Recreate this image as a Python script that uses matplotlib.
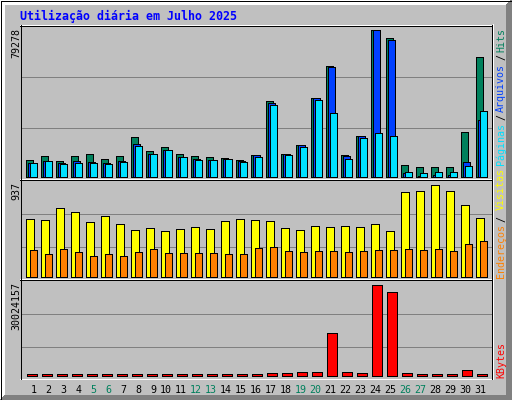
import matplotlib
matplotlib.use('Agg')
import matplotlib.pyplot as plt
from matplotlib.patches import Polygon, Rectangle
from matplotlib.transforms import blended_transform_factory
import numpy as np

TITLE = 'Utilização diária em Julho 2025'

days = np.arange(1, 32)
weekend_days = [5, 6, 12, 13, 19, 20, 26, 27]

# painel 1: Hits / Arquivos / Páginas
hits  = [9168, 11164, 8467, 11164, 12242, 9546, 11164, 21410, 13860, 16017,
         12242, 11164, 10624, 10085, 9006, 11703, 40987, 12242, 17096, 42605,
         59700, 11703, 21949, 79278, 74801, 6310, 5231, 5231, 5231, 24106, 64554]
files = [7550, 8467, 7550, 8467, 7712, 7388, 8467, 17635, 12242, 14400,
         10624, 9546, 9006, 9546, 8467, 11600, 39908, 12026, 16880, 42227,
         59161, 11164, 21734, 79100, 73722, 1618, 400, 800, 800, 7928, 30578]
pages = [7173, 8467, 6849, 7550, 7388, 6849, 7928, 16557, 12100, 14300,
         10500, 9006, 8950, 9500, 7928, 10624, 38830, 11703, 16017, 41364,
         34353, 9546, 20871, 23567, 21949, 2535, 1995, 2535, 2535, 5770, 35432]

# painel 2: Visitas / Endereços
visits = [588, 577, 700, 659, 557, 618, 537, 476, 496, 465,
          486, 506, 486, 567, 588, 577, 567, 496, 476, 516,
          506, 516, 506, 537, 465, 863, 873, 937, 873, 730, 598]
sites  = [272, 231, 282, 252, 211, 231, 211, 252, 282, 241,
          241, 241, 241, 231, 231, 292, 302, 262, 252, 262,
          262, 252, 262, 272, 272, 282, 272, 282, 262, 333, 364]

# painel 3: KBytes
kbytes = [330000, 330000, 330000, 330000, 330000, 330000, 330000, 330000,
          330000, 330000, 330000, 330000, 330000, 330000, 330000, 330000,
          660000, 660000, 990000, 990000, 14090000, 990000, 660000, 30024157,
          27620000, 660000, 330000, 330000, 330000, 1650000, 330000]

# cores padrão do webalizer
GREY    = '#C0C0C0'
DKGREY  = '#808080'
C_HITS  = '#00805C'
C_FILES = '#0040FF'
C_PAGES = '#00E0FF'
C_VISIT = '#FFFF00'
C_SITES = '#FF8000'
C_KBYTE = '#FF0000'
MONO    = 'DejaVu Sans Mono'
PX      = 0.72          # 1 pixel em pontos (dpi 100)

W, H = 512, 400
fig = plt.figure(figsize=(W / 100, H / 100), dpi=100)
fig.patch.set_facecolor(GREY)

# camada de fundo em coordenadas de pixel
bg = fig.add_axes([0, 0, 1, 1], zorder=0)
bg.set_xlim(0, W)
bg.set_ylim(H, 0)
bg.axis('off')

# borda 3D
bg.add_patch(Polygon([(0, 0), (W, 0), (506, 5), (5, 5), (5, 395), (0, H)],
                     closed=True, fc='white', ec='none', antialiased=False))
bg.add_patch(Polygon([(W, 0), (W, H), (0, H), (5, 395), (506, 395), (506, 5)],
                     closed=True, fc=DKGREY, ec='none', antialiased=False))
bg.add_patch(Rectangle((0.5, 0.5), W - 1, H - 1, fill=False, ec='black',
                       lw=PX, antialiased=False))

# linhas de grade (terços de cada painel)
for r in [76, 127, 213, 246, 313, 346]:
    bg.plot([21, 491], [r + 0.5, r + 0.5], color=DKGREY, lw=PX,
            antialiased=False)

# molduras dos painéis
for r in [25, 179, 279]:
    bg.plot([20, 492], [r + 0.5, r + 0.5], color='black', lw=PX, antialiased=False)
for r in [24, 178, 278, 378]:
    bg.plot([20, 493], [r + 0.5, r + 0.5], color='white', lw=PX, antialiased=False)
bg.plot([20.5, 20.5], [25, 379], color='black', lw=PX, antialiased=False)
bg.plot([491.5, 491.5], [25, 379], color='black', lw=PX, antialiased=False)
bg.plot([492.5, 492.5], [24, 379], color='white', lw=PX, antialiased=False)

# título
bg.text(19.5, 19.8, TITLE, family=MONO, fontweight='bold', fontsize=8.35,
        color='#0000FF', ha='left', va='baseline')


def panel(top, bot, base, maxrow, vmax):
    ax = fig.add_axes([21 / W, 1 - bot / H, (491 - 21) / W, (bot - top) / H],
                      zorder=1)
    k = vmax / (base - maxrow)
    ax.set_ylim((base - bot) * k, (base - top) * k)
    ax.set_xlim(1 + (21 - 25) / 15, 1 + (491 - 25) / 15)
    ax.axis('off')
    return ax


def bars(ax, vals, off, w, color):
    ax.bar(days + off / 15, vals, width=w / 15, align='edge', color=color,
           edgecolor='black', linewidth=PX, antialiased=False)


ax1 = panel(26, 178, 176.5, 29.5, max(hits))
bars(ax1, hits, 0.5, 7, C_HITS)
bars(ax1, files, 2.5, 7, C_FILES)
bars(ax1, pages, 4.5, 7, C_PAGES)

ax2 = panel(180, 278, 276.5, 184.5, max(visits))
bars(ax2, visits, 0.5, 8, C_VISIT)
bars(ax2, sites, 4.5, 7, C_SITES)

ax3 = panel(280, 378, 375.5, 284.5, max(kbytes))
bars(ax3, kbytes, 1.5, 10, C_KBYTE)

# dias do mês
tr = blended_transform_factory(ax3.transData, bg.transData)
for d in days:
    col = C_HITS if d in weekend_days else 'black'
    ax3.text(d + 11.5 / 15, 392.7, str(d), transform=tr, family=MONO,
             fontsize=7.2, color=col, ha='right', va='baseline')


def up(x, y, s, color, ha):
    bg.text(x, y, s, rotation=90, rotation_mode='anchor', ha=ha,
            va='baseline', family=MONO, fontsize=7.2, color=color)


# valores máximos à esquerda
up(19, 28, str(max(hits)), 'black', 'right')
up(19, 181.5, str(max(visits)), 'black', 'right')
up(19, 281.5, str(max(kbytes)), 'black', 'right')

# legendas à direita
up(504, 27.8, 'Hits', C_HITS, 'right')
up(504, 54.5, '/', 'black', 'right')
up(504, 64.3, 'Arquivos', C_FILES, 'right')
up(504, 114.5, '/', 'black', 'right')
up(504, 123.3, 'Páginas', C_PAGES, 'right')

up(504, 277.5, 'Endereços', C_SITES, 'left')
up(504, 221.5, '/', 'black', 'left')
up(504, 210.5, 'Visitas', C_VISIT, 'left')

up(504, 377.5, 'KBytes', C_KBYTE, 'left')

fig.savefig('out.png', dpi=100, facecolor=GREY)
